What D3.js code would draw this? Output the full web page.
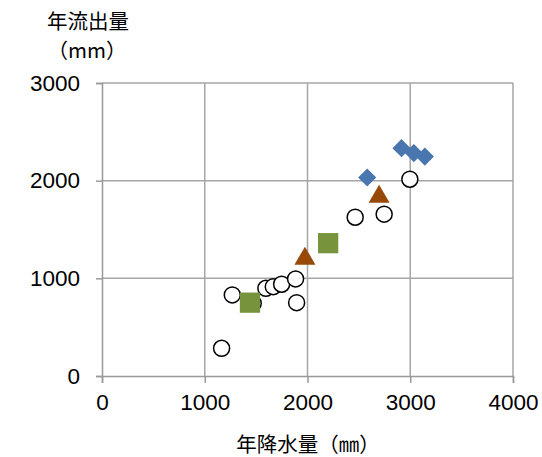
<!DOCTYPE html>

<head>
	<meta charset="utf-8" />
	<style>
		body {
			margin: 0;
			background-color: #fff;
			overflow: hidden;
		}

		.tick text {
			font-family: 'Liberation Sans', Arial, sans-serif;
			font-size: 22.5px;
			fill: #000;
		}

		.label {
			font-family: 'Noto Sans CJK JP', sans-serif;
			font-size: 20.5px;
			fill: #000;
		}
	</style>
</head>

<body>
	<div id="chart-area"></div>

	<script src="https://cdnjs.cloudflare.com/ajax/libs/d3/7.8.5/d3.min.js"></script>

	<script>
		// observed points, [precipitation mm, runoff mm]
		const circles = [
			[1164, 284],
			[1268, 830],
			[1472, 745],
			[1595, 898],
			[1667, 915],
			[1748, 940],
			[1884, 994],
			[1894, 751],
			[2464, 1626],
			[2746, 1657],
			[2996, 2015],
		];
		const diamonds = [
			[2581, 2032],
			[2915, 2333],
			[3035, 2282],
			[3142, 2247],
		];
		const triangles = [
			[1975, 1222],
			[2697, 1855],
		];
		const squares = [
			[1440, 751],
			[2201, 1360],
		];

		const xTicks = [0, 1000, 2000, 3000, 4000];
		const yTicks = [0, 1000, 2000, 3000];

		const W = 542,
			H = 457;
		const margins = { top: 83, right: 29, bottom: 81, left: 102 };
		const width = W - margins.left - margins.right;
		const height = H - margins.top - margins.bottom;

		const svg = d3
			.select('#chart-area')
			.append('svg')
			.attr('width', W)
			.attr('height', H);

		const g = svg
			.append('g')
			.attr('transform', `translate(${margins.left},${margins.top})`);

		const x = d3.scaleLinear().domain([0, 4000]).range([0, width]);
		const y = d3.scaleLinear().domain([0, 3000]).range([height, 0]);

		// gridlines
		g.selectAll('.vgrid')
			.data(xTicks.slice(1))
			.join('line')
			.attr('x1', d => x(d))
			.attr('x2', d => x(d))
			.attr('y1', 0)
			.attr('y2', height)
			.attr('stroke', '#a6a6a6')
			.attr('stroke-width', 1.5);

		g.selectAll('.hgrid')
			.data(yTicks.slice(1))
			.join('line')
			.attr('x1', 0)
			.attr('x2', width)
			.attr('y1', d => y(d))
			.attr('y2', d => y(d))
			.attr('stroke', '#a6a6a6')
			.attr('stroke-width', 1.5);

		// axes
		const xAxis = g
			.append('g')
			.attr('transform', `translate(0,${height})`)
			.call(
				d3
					.axisBottom(x)
					.tickValues(xTicks)
					.tickSize(7)
					.tickPadding(11)
					.tickFormat(d3.format('d'))
			);
		const yAxis = g.append('g').call(
			d3
				.axisLeft(y)
				.tickValues(yTicks)
				.tickSize(6)
				.tickPadding(16)
				.tickFormat(d3.format('d'))
		);
		[xAxis, yAxis].forEach(a => {
			a.select('.domain').attr('stroke', '#999').attr('stroke-width', 1.5);
			a.selectAll('.tick line')
				.attr('stroke', '#999')
				.attr('stroke-width', 1.5);
		});

		// markers
		const px = d => x(d[0]);
		const py = d => y(d[1]);

		g.selectAll('.circle')
			.data(circles)
			.join('circle')
			.attr('cx', px)
			.attr('cy', py)
			.attr('r', 8)
			.attr('fill', '#fff')
			.attr('stroke', '#000')
			.attr('stroke-width', 1.5);

		g.selectAll('.diamond')
			.data(diamonds)
			.join('path')
			.attr('d', d3.symbol(d3.symbolSquare, 165))
			.attr('transform', d => `translate(${px(d)},${py(d)}) rotate(45)`)
			.attr('fill', '#4a76b0');

		const tri = 'M0,-10L10.5,8L-10.5,8Z';
		g.selectAll('.triangle')
			.data(triangles)
			.join('path')
			.attr('d', tri)
			.attr('transform', d => `translate(${px(d)},${py(d)})`)
			.attr('fill', '#984807');

		g.selectAll('.square')
			.data(squares)
			.join('path')
			.attr('d', d3.symbol(d3.symbolSquare, 410))
			.attr('transform', d => `translate(${px(d)},${py(d)})`)
			.attr('fill', '#77933c');

		// axis titles
		svg.append('text')
			.attr('class', 'label')
			.attr('x', 88)
			.attr('y', 29)
			.attr('text-anchor', 'middle')
			.text('年流出量');
		svg.append('text')
			.attr('class', 'label')
			.attr('x', 87)
			.attr('y', 58)
			.attr('text-anchor', 'middle')
			.text('（mm）');
		svg.append('text')
			.attr('class', 'label')
			.attr('x', 308)
			.attr('y', 452)
			.attr('text-anchor', 'middle')
			.text('年降水量（㎜）');
	</script>
</body>
